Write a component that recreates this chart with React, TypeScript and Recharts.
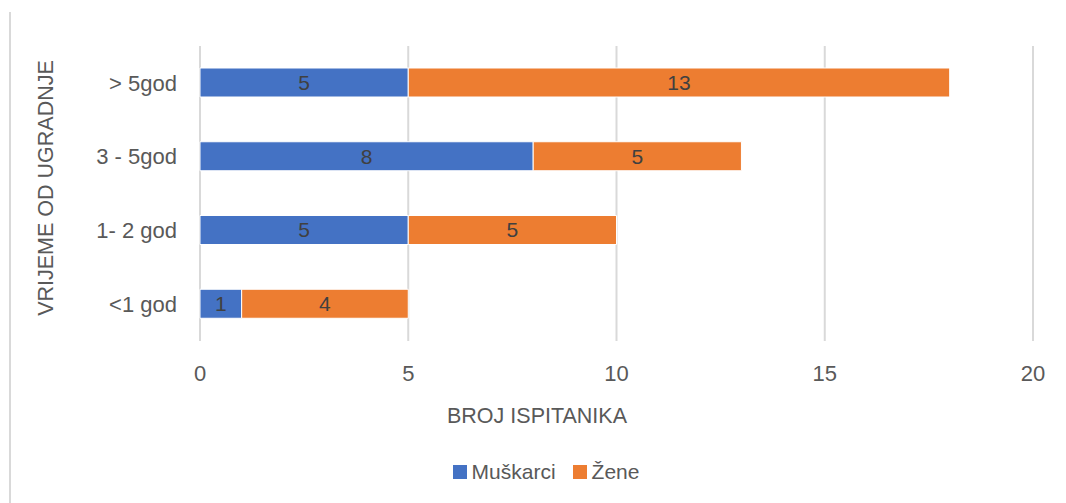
import { BarChart, Bar, XAxis, YAxis, CartesianGrid, Legend, LabelList, Label } from "recharts";

const categories = ["> 5god", "3 - 5god", "1- 2 god", "<1 god"];
const muskarci = [5, 8, 5, 1];
const zene = [13, 5, 5, 4];
const xTicks = [0, 5, 10, 15, 20];

const data = categories.map((name, i) => ({
  name,
  muskarci: muskarci[i],
  zene: zene[i],
}));

const FONT = "'Liberation Sans', Arial, sans-serif";
const TEXT = "#595959";
const GRID = "#d9d9d9";

function LegendContent({ payload }: any) {
  return (
    <div style={{ display: "flex", justifyContent: "center", gap: 17, fontFamily: FONT, fontSize: 21, color: TEXT }}>
      {(payload || []).map((p: any) => (
        <div key={p.value} style={{ display: "flex", alignItems: "center" }}>
          <span style={{ display: "inline-block", width: 14, height: 14, background: p.color, marginRight: 5 }} />
          <span>{p.value}</span>
        </div>
      ))}
    </div>
  );
}

export default function App() {
  return (
    <div style={{ position: "absolute", left: 0, top: 0, width: 1066, height: 503, background: "#fff" }}>
      <div style={{ position: "absolute", left: 9, top: 12, width: 2, height: 491, background: GRID }} />
      <BarChart
        width={1066}
        height={503}
        layout="vertical"
        data={data}
        barSize={29}
        margin={{ top: 46, right: 33, bottom: 62, left: 0 }}
      >
        <CartesianGrid horizontal={false} vertical={true} stroke={GRID} strokeWidth={2} />
        <XAxis
          type="number"
          domain={[0, 20]}
          ticks={xTicks}
          axisLine={false}
          tickLine={false}
          tickMargin={18}
          height={100}
          tick={{ fill: TEXT, fontSize: 22, fontFamily: FONT }}
        >
          <Label
            content={() => (
              <text x={537} y={423} textAnchor="middle" fill={TEXT} fontSize={21.5} fontFamily={FONT}>
                BROJ ISPITANIKA
              </text>
            )}
          />
        </XAxis>
        <YAxis
          type="category"
          dataKey="name"
          width={200}
          axisLine={false}
          tickLine={false}
          tickMargin={17}
          tick={{ fill: TEXT, fontSize: 22, fontFamily: FONT }}
        >
          <Label
            content={() => (
              <text
                x={53}
                y={188}
                transform="rotate(-90, 53, 188)"
                textAnchor="middle"
                fill={TEXT}
                fontSize={21.5}
                fontFamily={FONT}
              >
                VRIJEME OD UGRADNJE
              </text>
            )}
          />
        </YAxis>
        <Legend
          verticalAlign="middle"
          align="center"
          layout="horizontal"
          wrapperStyle={{ top: 460, left: 26, width: 1040 }}
          content={<LegendContent />}
        />
        <Bar dataKey="muskarci" name="Muškarci" stackId="a" fill="#4472C4" stroke="#fff" strokeWidth={1} isAnimationActive={false}>
          <LabelList dataKey="muskarci" position="center" fill="#404040" fontSize={21} fontFamily={FONT} />
        </Bar>
        <Bar dataKey="zene" name="Žene" stackId="a" fill="#ED7D31" stroke="#fff" strokeWidth={1} isAnimationActive={false}>
          <LabelList dataKey="zene" position="center" fill="#404040" fontSize={21} fontFamily={FONT} />
        </Bar>
      </BarChart>
    </div>
  );
}
